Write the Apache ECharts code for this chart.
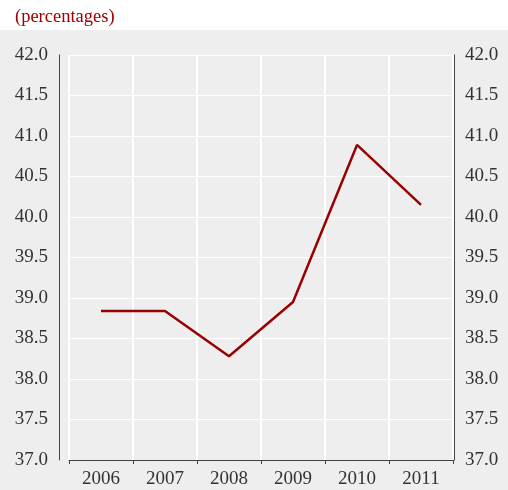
<!DOCTYPE html>
<html>
<head>
<meta charset="utf-8">
<script src="https://cdn.jsdelivr.net/npm/echarts@6/dist/echarts.min.js"></script>
<style>html,body{margin:0;padding:0;background:#fff}#c{width:508px;height:490px}</style>
</head>
<body>
<div id="c"></div>
<script>
const categories = ['2006', '2007', '2008', '2009', '2010', '2011'];
const values = [38.84, 38.84, 38.28, 38.95, 40.89, 40.15];
const unitLabel = '(percentages)';
const yMin = 37.0, yMax = 42.0, yStep = 0.5;

const chart = echarts.init(document.getElementById('c'), null, {renderer: 'canvas'});
const font = '"Liberation Serif", "DejaVu Serif", serif';
const yAxisCommon = {
  type: 'value', min: yMin, max: yMax, interval: yStep,
  axisLine: {show: true, lineStyle: {color: '#444', width: 1}},
  axisTick: {show: false},
  splitLine: {show: true, lineStyle: {color: '#ffffff', width: 1}},
  axisLabel: {color: '#333', fontFamily: font, fontSize: 19, margin: 11,
    formatter: v => v.toFixed(1)}
};
chart.setOption({
  animation: false,
  backgroundColor: '#ffffff',
  graphic: [{type: 'rect', shape: {x: 0, y: 30, width: 508, height: 460},
    style: {fill: '#eeeeee'}, z: -10, silent: true}],
  title: {text: unitLabel, left: 10, top: 3,
    textStyle: {color: '#a00000', fontFamily: font, fontSize: 18.5, fontWeight: 'normal'}},
  grid: {left: 69, right: 55, top: 55, bottom: 30},
  xAxis: {
    type: 'category', data: categories, boundaryGap: true,
    axisLine: {show: true, lineStyle: {color: '#444', width: 1}},
    axisTick: {show: true, length: 4, lineStyle: {color: '#444'}},
    splitLine: {show: true, lineStyle: {color: '#ffffff', width: 2}},
    axisLabel: {color: '#333', fontFamily: font, fontSize: 19, margin: 10}
  },
  yAxis: [
    Object.assign({}, yAxisCommon, {position: 'left', offset: 10}),
    Object.assign({}, yAxisCommon, {position: 'right', offset: 1, splitLine: {show: false}})
  ],
  series: [{
    type: 'line', data: values, yAxisIndex: 0,
    symbol: 'none', lineStyle: {color: '#990000', width: 2.5}
  }]
});
</script>
</body>
</html>
